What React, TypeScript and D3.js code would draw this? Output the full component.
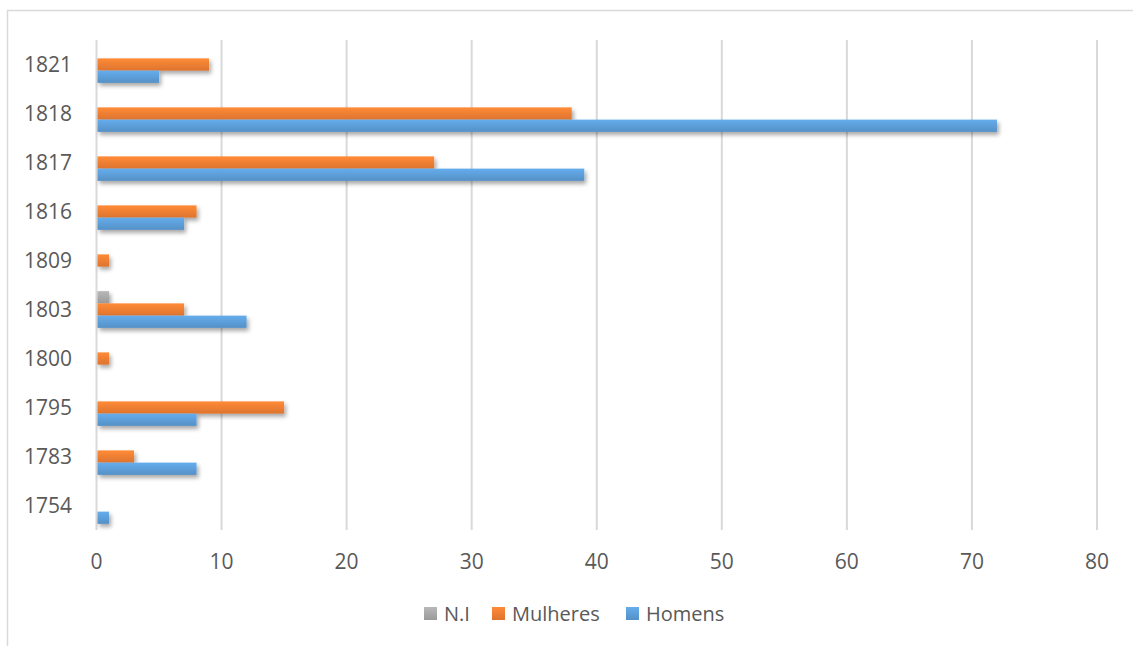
import { useRef, useEffect } from "react";
import * as d3 from "d3";

const years = ["1821", "1818", "1817", "1816", "1809", "1803", "1800", "1795", "1783", "1754"];
const series = ["N.I", "Mulheres", "Homens"];
const niValues = [0, 0, 0, 0, 0, 1, 0, 0, 0, 0];
const mulheresValues = [9, 38, 27, 8, 1, 7, 1, 15, 3, 0];
const homensValues = [5, 72, 39, 7, 0, 12, 0, 8, 8, 1];
const xTicks = [0, 10, 20, 30, 40, 50, 60, 70, 80];
const colors = ["#A5A5A5", "#ED7D31", "#5B9BD5"];

const W = 1133;
const H = 646;
const FONT = "'Open Sans', 'Liberation Sans', sans-serif";

const App = () => {
  const ref = useRef<SVGSVGElement | null>(null);

  useEffect(() => {
    const svg = d3.select(ref.current);
    svg.selectAll("*").remove();

    const defs = svg.append("defs");
    const shadow = defs
      .append("filter")
      .attr("id", "shadow")
      .attr("x", "-10%")
      .attr("y", "-50%")
      .attr("width", "130%")
      .attr("height", "250%");
    shadow
      .append("feDropShadow")
      .attr("dx", 2)
      .attr("dy", 3)
      .attr("stdDeviation", 2)
      .attr("flood-color", "#000")
      .attr("flood-opacity", 0.35);

    // gradient for each series
    colors.forEach((c, i) => {
      const g = defs
        .append("linearGradient")
        .attr("id", "grad" + i)
        .attr("x1", 0)
        .attr("y1", 0)
        .attr("x2", 0)
        .attr("y2", 1);
      g.append("stop").attr("offset", "0%").attr("stop-color", d3.color(c)!.brighter(0.3).toString());
      g.append("stop").attr("offset", "100%").attr("stop-color", d3.color(c)!.darker(0.2).toString());
    });

    // chart border (top + left visible)
    svg
      .append("path")
      .attr("d", `M7.5,${H} V10.5 H${W}`)
      .attr("fill", "none")
      .attr("stroke", "#d9d9d9")
      .attr("stroke-width", 1.5);

    const x = d3.scaleLinear().domain([0, 80]).range([96.5, 1097]);
    const y = d3.scaleBand().domain(years).range([40, 530]).paddingInner(0).paddingOuter(0);
    const inner = d3
      .scaleBand()
      .domain(series)
      .range([y.bandwidth() * 0.125, y.bandwidth() * 0.875]);

    // gridlines
    svg
      .append("g")
      .selectAll("line")
      .data(xTicks)
      .join("line")
      .attr("x1", (d) => x(d))
      .attr("x2", (d) => x(d))
      .attr("y1", 40)
      .attr("y2", 530)
      .attr("stroke", "#d9d9d9")
      .attr("stroke-width", 2);

    // x tick labels
    svg
      .append("g")
      .selectAll("text")
      .data(xTicks)
      .join("text")
      .attr("x", (d) => x(d))
      .attr("y", 562)
      .attr("dy", "0.35em")
      .attr("text-anchor", "middle")
      .attr("font-family", FONT)
      .attr("font-size", 21)
      .attr("fill", "#595959")
      .text((d) => d);

    // y labels
    svg
      .append("g")
      .selectAll("text")
      .data(years)
      .join("text")
      .attr("x", 72)
      .attr("y", (d) => y(d)! + y.bandwidth() / 2)
      .attr("dy", "0.35em")
      .attr("text-anchor", "end")
      .attr("font-family", FONT)
      .attr("font-size", 21)
      .attr("fill", "#595959")
      .text((d) => d);

    const allValues = [niValues, mulheresValues, homensValues];
    const bars = svg.append("g").attr("filter", "url(#shadow)");
    series.forEach((s, si) => {
      bars
        .append("g")
        .selectAll("rect")
        .data(years.map((yr, i) => ({ yr, v: allValues[si][i] })).filter((d) => d.v > 0))
        .join("rect")
        .attr("x", x(0) + 1)
        .attr("y", (d) => y(d.yr)! + inner(s)!)
        .attr("width", (d) => x(d.v) - x(0) - 1)
        .attr("height", inner.bandwidth())
        .attr("fill", `url(#grad${si})`);
    });

    // legend
    const legendItems = [
      { label: "N.I", x: 424 },
      { label: "Mulheres", x: 492 },
      { label: "Homens", x: 626 },
    ];
    const lg = svg.append("g");
    legendItems.forEach((it, i) => {
      lg.append("rect")
        .attr("x", it.x)
        .attr("y", 607)
        .attr("width", 13)
        .attr("height", 13)
        .attr("fill", `url(#grad${i})`);
      lg.append("text")
        .attr("x", it.x + 20)
        .attr("y", 614)
        .attr("dy", "0.35em")
        .attr("font-family", FONT)
        .attr("font-size", 20)
        .attr("fill", "#595959")
        .text(it.label);
    });
  }, []);

  return (
    <svg
      ref={ref}
      width={W}
      height={H}
      style={{ position: "absolute", left: 0, top: 0, background: "#fff" }}
    />
  );
};

export default App;
